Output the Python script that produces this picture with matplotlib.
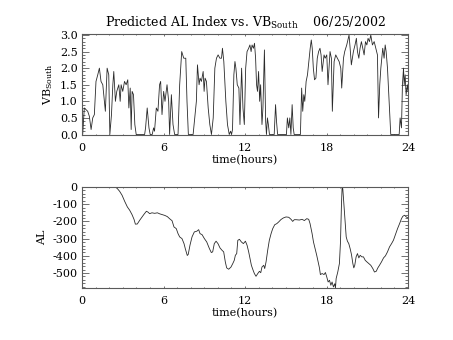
import matplotlib
matplotlib.use("Agg")
import matplotlib.pyplot as plt
from matplotlib.ticker import MultipleLocator, FixedLocator

plt.rcParams['font.family'] = ['DejaVu Serif']
plt.rcParams['axes.unicode_minus'] = False
plt.rcParams['mathtext.fontset'] = 'dejavuserif'

# Southward IMF driver (VB_South) vs. time of day
vb_hours = [0.00, 0.05, 0.17, 0.30, 0.42, 0.54, 0.67, 0.79, 0.91, 1.03, 1.16, 1.28, 1.40, 1.53,
            1.65, 1.72, 1.85, 1.97, 2.05, 2.17, 2.27, 2.34, 2.46, 2.56, 2.71, 2.81, 2.88, 3.00,
            3.13, 3.25, 3.37, 3.45, 3.55, 3.62, 3.69, 3.79, 3.89, 3.99, 4.61, 4.68, 4.80, 4.93,
            5.02, 5.17, 5.27, 5.34, 5.47, 5.59, 5.71, 5.79, 5.89, 6.01, 6.11, 6.26, 6.38, 6.45,
            6.58, 6.70, 6.82, 7.07, 7.19, 7.34, 7.49, 7.64, 7.73, 7.83, 8.18, 8.30, 8.42, 8.50,
            8.62, 8.69, 8.79, 8.92, 8.99, 9.06, 9.16, 9.29, 9.41, 9.53, 9.66, 9.78, 9.90, 10.02,
            10.15, 10.27, 10.34, 10.44, 10.59, 10.71, 10.84, 10.94, 11.01, 11.08, 11.18, 11.26,
            11.33, 11.43, 11.55, 11.63, 11.75, 11.85, 11.95, 12.05, 12.15, 12.27, 12.36, 12.45,
            12.52, 12.62, 12.70, 12.78, 12.85, 12.92, 13.00, 13.08, 13.15, 13.25, 13.32, 13.43,
            13.52, 13.58, 13.65, 13.72, 13.80, 14.15, 14.25, 14.32, 14.40, 15.05, 15.12, 15.22,
            15.30, 15.38, 15.47, 15.55, 15.62, 16.08, 16.17, 16.25, 16.33, 16.40, 16.50, 16.60,
            16.70, 16.80, 16.88, 16.95, 17.03, 17.12, 17.22, 17.32, 17.42, 17.52, 17.60, 17.68,
            17.76, 17.82, 17.90, 18.02, 18.11, 18.26, 18.36, 18.43, 18.56, 18.68, 18.80, 18.93,
            19.05, 19.12, 19.25, 19.34, 19.49, 19.66, 19.74, 19.83, 19.98, 20.10, 20.20, 20.28,
            20.38, 20.47, 20.57, 20.67, 20.77, 20.87, 20.97, 21.06, 21.16, 21.26, 21.38, 21.51,
            21.63, 21.75, 21.83, 21.92, 22.00, 22.07, 22.14, 22.24, 22.32, 22.39, 22.49, 22.61,
            22.73, 23.35, 23.42, 23.52, 23.59, 23.67, 23.72, 23.79, 23.86, 23.96, 24.00]
vb_south = [1.5, 0.0, 0.8, 0.75, 0.7, 0.55, 0.15, 0.5, 0.6, 1.6, 1.8, 2.0, 1.6, 1.5,
            1.0, 0.7, 2.0, 1.8, 0.0, 0.6, 1.5, 1.9, 1.0, 1.3, 1.5, 1.0, 1.5, 1.3,
            1.6, 1.5, 1.65, 0.8, 1.4, 0.15, 1.3, 1.2, 0.3, 0.0, 0.0, 0.2, 0.8, 0.2,
            0.0, 0.0, 0.2, 0.1, 0.8, 0.7, 1.5, 1.6, 0.6, 1.3, 1.0, 1.5, 1.0, 0.0,
            1.2, 0.3, 0.0, 0.0, 1.5, 2.5, 2.3, 2.3, 1.0, 0.0, 0.0, 0.5, 1.0, 2.1,
            1.5, 1.7, 1.6, 1.9, 1.3, 1.7, 1.6, 0.8, 0.3, 0.0, 0.5, 2.0, 2.3, 2.4,
            2.3, 2.3, 2.6, 2.2, 1.0, 0.3, 0.0, 0.1, 0.0, 0.15, 1.8, 2.2,
            2.0, 1.5, 1.4, 0.3, 2.0, 0.8, 0.3, 2.0, 2.5, 2.6, 2.7, 2.5,
            2.7, 2.6, 2.75, 2.3, 1.5, 1.3, 1.9, 1.0, 1.5, 0.3, 0.8, 2.55,
            0.4, 0.0, 0.5, 0.3, 0.0, 0.0, 0.9, 0.4, 0.0, 0.0, 0.5, 0.2,
            0.5, 0.0, 0.9, 0.2, 0.0, 0.0, 1.4, 0.7, 1.2, 1.0, 1.6, 1.8,
            2.2, 2.6, 2.85, 2.6, 2.0, 1.65, 1.7, 2.3, 2.5, 2.6, 2.4, 1.9,
            2.2, 2.4, 2.3, 2.4, 1.5, 2.5, 2.3, 0.7, 2.2, 2.4, 2.3, 2.2,
            2.0, 1.4, 2.3, 2.5, 2.7, 3.0, 2.6, 2.1, 2.5, 2.7, 2.9, 2.5,
            2.3, 2.6, 2.8, 2.6, 2.4, 2.8, 2.7, 2.9, 2.8, 3.0, 2.7, 2.8,
            2.6, 2.4, 0.5, 1.5, 2.0, 2.3, 2.6, 2.3, 2.7, 2.5, 2.0, 1.0,
            0.0, 0.0, 0.5, 0.2, 1.5, 2.0, 1.5, 1.8, 1.2, 1.5, 1.3]

# Predicted AL index (nT)
al_hours = [0.00, 2.45, 2.60, 2.77, 2.95, 3.14, 3.34, 3.51, 3.68, 3.83, 3.93, 4.07, 4.25, 4.42,
            4.57, 4.74, 4.86, 4.98, 5.15, 5.35, 5.55, 5.72, 5.89, 6.09, 6.28, 6.46, 6.63, 6.77,
            6.94, 7.07, 7.19, 7.36, 7.51, 7.61, 7.75, 7.82, 7.95, 8.10, 8.27, 8.45, 8.59, 8.69,
            8.84, 9.01, 9.18, 9.38, 9.52, 9.62, 9.74, 9.87, 10.01, 10.16, 10.31, 10.43, 10.55,
            10.65, 10.80, 10.97, 11.10, 11.21, 11.29, 11.39, 11.47, 11.59, 11.73, 11.88, 12.03,
            12.15, 12.27, 12.37, 12.47, 12.57, 12.69, 12.81, 12.94, 13.06, 13.16, 13.25, 13.38,
            13.45, 13.55, 13.67, 13.79, 13.92, 14.04, 14.19, 14.34, 14.48, 14.65, 14.82, 15.02,
            15.22, 15.39, 15.51, 15.63, 15.76, 16.00, 16.20, 16.37, 16.55, 16.69, 16.79, 16.94,
            17.04, 17.19, 17.28, 17.38, 17.48, 17.55, 17.68, 17.82, 17.92, 18.02, 18.12, 18.22,
            18.32, 18.41, 18.51, 18.61, 18.66, 18.71, 18.83, 18.95, 19.03, 19.10, 19.15, 19.20,
            19.27, 19.37, 19.45, 19.54, 19.64, 19.74, 19.84, 19.94, 20.01, 20.08, 20.18, 20.28,
            20.38, 20.48, 20.60, 20.72, 20.85, 20.97, 21.12, 21.26, 21.41, 21.53, 21.66, 21.78,
            21.90, 22.05, 22.20, 22.34, 22.49, 22.64, 22.79, 22.93, 23.08, 23.23, 23.38, 23.52,
            23.62, 23.75, 23.87, 24.00]
al_index = [0, 0, -9, -25, -48, -83, -116, -135, -160, -188, -216, -215, -193, -174,
            -158, -141, -146, -155, -150, -153, -150, -156, -160, -165, -172, -185, -196, -232,
            -242, -271, -290, -300, -329, -360, -398, -392, -338, -290, -261, -257, -248, -271,
            -277, -300, -319, -358, -381, -377, -329, -315, -329, -354, -368, -377, -435,
            -470, -478, -465, -445, -426, -397, -387, -310, -304, -319, -329, -315,
            -338, -377, -416, -455, -478, -503, -519, -503, -490, -498, -465, -455,
            -474, -435, -368, -310, -271, -242, -219, -213, -203, -189, -180, -174,
            -176, -188, -200, -190, -190, -192, -188, -195, -184, -188, -213, -271,
            -319, -368, -397, -435, -470, -509, -503, -509, -497, -523, -552, -542,
            -571, -552, -581, -562, -587, -532, -494, -445, -319, -106, 0, -10,
            -86, -203, -290, -315, -329, -358, -393, -445, -470, -455, -406, -387,
            -412, -397, -406, -406, -426, -435, -445, -455, -474, -494, -490, -470,
            -455, -435, -412, -400, -377, -348, -329, -309, -276, -242, -213, -184,
            -170, -164, -174, -180]

hour_ticks = [0, 6, 12, 18, 24]
vb_ticks = [0.0, 0.5, 1.0, 1.5, 2.0, 2.5, 3.0]
al_ticks = [0, -100, -200, -300, -400, -500]

line_col = '#2a2a2a'
axis_col = '#5a5a5a'
fs = 8

fig = plt.figure(figsize=(4.53, 3.40), dpi=100)
ax1 = fig.add_axes([82 / 453, 1 - 135 / 340, 326 / 453, 101 / 340])
ax2 = fig.add_axes([82 / 453, 1 - 288 / 340, 326 / 453, 101 / 340])


def style(ax):
    for s in ax.spines.values():
        s.set_color(axis_col)
        s.set_linewidth(0.8)
    ax.tick_params(which='both', direction='in', top=True, right=True,
                   color=axis_col, width=0.6, labelsize=fs, pad=6)
    ax.tick_params(axis='x', which='major', length=1.6)
    ax.tick_params(axis='x', which='minor', length=0.8)
    ax.tick_params(axis='y', which='major', length=4.7, pad=3)
    ax.tick_params(axis='y', which='minor', length=2.4)
    ax.set_xlim(0, 24)
    ax.xaxis.set_major_locator(FixedLocator(hour_ticks))
    ax.xaxis.set_minor_locator(MultipleLocator(1))
    ax.set_xticklabels([str(h) for h in hour_ticks])
    ax.set_xlabel('time(hours)', fontsize=fs, labelpad=1)


ax1.plot(vb_hours, vb_south, color=line_col, lw=0.6)
style(ax1)
ax1.set_ylim(-0.015, 3.03)
ax1.yaxis.set_major_locator(FixedLocator(vb_ticks))
ax1.yaxis.set_minor_locator(MultipleLocator(0.1))
ax1.set_yticklabels(['%.1f' % v for v in vb_ticks])
ax1.set_ylabel(r'VB$_{\mathrm{South}}$', fontsize=fs, labelpad=4)
ax1.set_title(r'Predicted AL Index vs. VB$_{\mathrm{South}}$    06/25/2002',
              fontsize=9, pad=5)

ax2.plot(al_hours, al_index, color=line_col, lw=0.6)
style(ax2)
ax2.set_ylim(-587, 0)
ax2.yaxis.set_major_locator(FixedLocator(al_ticks))
ax2.yaxis.set_minor_locator(MultipleLocator(20))
ax2.set_yticklabels([str(v) for v in al_ticks])
ax2.set_ylabel('AL', fontsize=fs, labelpad=4)

fig.savefig('out.png', dpi=100)
